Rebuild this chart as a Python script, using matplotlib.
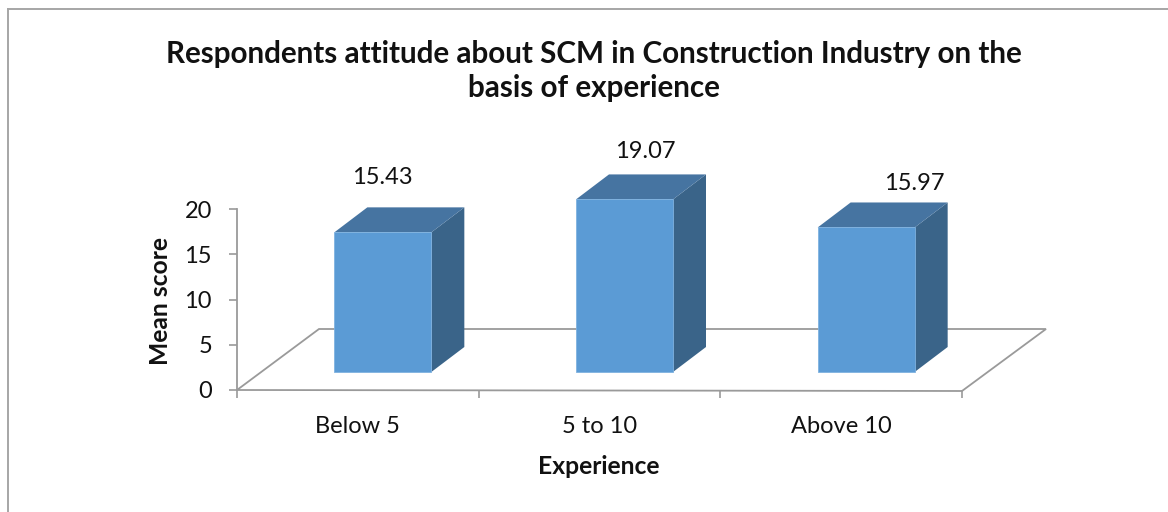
import matplotlib

matplotlib.use("Agg")
import matplotlib.pyplot as plt
from matplotlib.patches import Polygon, Rectangle
from matplotlib.transforms import ScaledTranslation

categories = ["Below 5", "5 to 10", "Above 10"]
values = [15.43, 19.07, 15.97]
value_labels = ["15.43", "19.07", "15.97"]
y_ticks = [0, 5, 10, 15, 20]

W, H = 1168, 512
FRONT = "#5b9bd5"
TOP = "#4674a1"
SIDE = "#3a6489"
GREY = "#9a9a9a"
INK = "#111111"

plt.rcParams["font.family"] = ["Lato", "DejaVu Sans"]

fig = plt.figure(figsize=(W / 100, H / 100), dpi=100)


def px_box(x0, y0, x1, y1):
    return [x0 / W, 1 - y1 / H, (x1 - x0) / W, (y1 - y0) / H]


# chart frame, only top and left show in the crop
fig.add_artist(plt.Line2D([8 / W, 8 / W], [1 - 9 / H, 0], color="#a6a6a6", lw=1.4))
fig.add_artist(plt.Line2D([8 / W, 1], [1 - 9 / H, 1 - 9 / H], color="#a6a6a6", lw=1.4))

ax = fig.add_axes(px_box(237, 209, 962, 390))
ax.set_xlim(0, 3)
ax.set_ylim(0, 20)
ax.patch.set_visible(False)

px_x = 3 / 725
px_y = 20 / 181

# floor
floor_x = [0, 82 * px_x, 3 + 84 * px_x, 3]
floor_y = [0, 61 * px_y, 61 * px_y, -1 * px_y]
ax.add_patch(Polygon(list(zip(floor_x, floor_y)), closed=True, fill=False, ec=GREY, lw=1.3, clip_on=False))

# bars sit on the floor, shifted back from the axis plane
bar_trans = ScaledTranslation(25 / fig.dpi, 18 / fig.dpi, fig.dpi_scale_trans)
depth_x = 33 * px_x
depth_y = 25 * px_y
half = 48.5 * px_x
for i, val in enumerate(values):
    cx = i + 0.5
    x0, x1 = cx - half, cx + half
    side = [(x1, 0), (x1 + depth_x, depth_y), (x1 + depth_x, val + depth_y), (x1, val)]
    top = [(x0, val), (x0 + depth_x, val + depth_y), (x1 + depth_x, val + depth_y), (x1, val)]
    ax.add_patch(Polygon(side, closed=True, fc=SIDE, ec="none", clip_on=False,
                         transform=ax.transData + bar_trans, zorder=3))
    ax.add_patch(Polygon(top, closed=True, fc=TOP, ec="none", clip_on=False,
                         transform=ax.transData + bar_trans, zorder=3))
    ax.add_patch(Rectangle((x0, 0), x1 - x0, val, fc=FRONT, ec="#7fb2e0", lw=0.6, clip_on=False,
                           transform=ax.transData + bar_trans, zorder=4))

label_px = [(382, 178), (645, 152), (914, 184)]
for (lx, ly), text in zip(label_px, value_labels):
    fig.text(lx / W, 1 - ly / H, text, ha="center", va="center", fontsize=17, color=INK)

for s in ["top", "right", "bottom"]:
    ax.spines[s].set_visible(False)
ax.spines["left"].set_color(GREY)
ax.spines["left"].set_linewidth(1.3)

ax.set_yticks(y_ticks)
ax.set_xticks([0, 1, 2, 3])
ax.set_xticklabels([])
ax.set_xticks([0.5, 1.5, 2.5], minor=True)
ax.set_xticklabels(categories, minor=True)
ax.tick_params(axis="x", which="major", color=GREY, length=6, width=1.2)
ax.tick_params(axis="x", which="minor", length=0, labelsize=17, pad=19, labelcolor=INK)
ax.tick_params(axis="y", color=GREY, length=6, width=1.2, labelsize=17, pad=12, labelcolor=INK)

fig.text(161 / W, 1 - 301 / H, "Mean score", rotation=90, ha="center", va="center",
         fontsize=17.7, fontweight="bold", color=INK)
fig.text(599 / W, 1 - 466 / H, "Experience", ha="center", va="center",
         fontsize=17.7, fontweight="bold", color=INK)
fig.text(593.5 / W, 1 - 54 / H, "Respondents attitude about SCM in Construction Industry on the",
         ha="center", va="center", fontsize=21.3, fontweight="bold", color=INK)
fig.text(593.5 / W, 1 - 88 / H, "basis of experience",
         ha="center", va="center", fontsize=21.3, fontweight="bold", color=INK)

fig.savefig("out.png", dpi=100)
plt.close(fig)
